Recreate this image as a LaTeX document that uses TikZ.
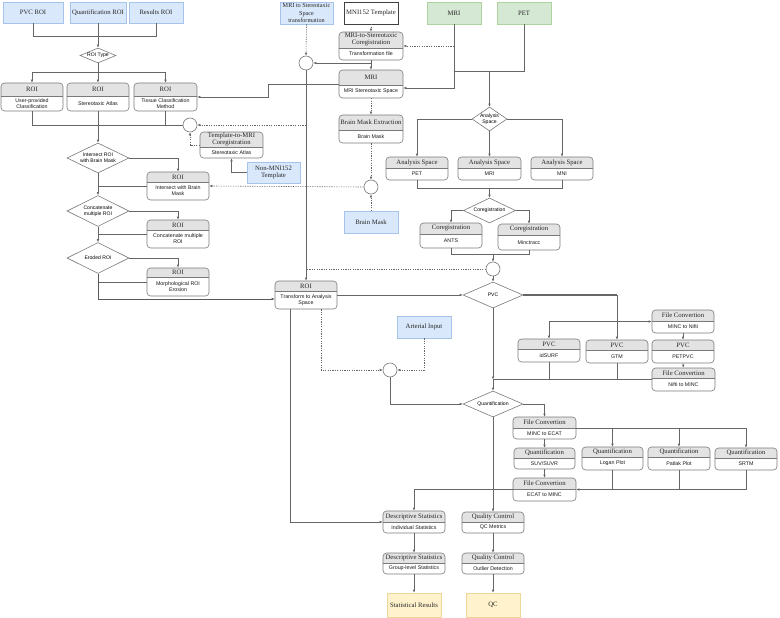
\documentclass[tikz,border=0pt]{standalone}
\usepackage{fontspec}
\setmainfont{Liberation Serif}
\newfontfamily\sansf{Liberation Sans}
\usetikzlibrary{arrows.meta,shapes.geometric,calc}
\definecolor{lnc}{HTML}{666666}
\definecolor{bdc}{HTML}{7A7A7A}
\definecolor{hdf}{HTML}{E3E3E3}
\definecolor{bluef}{HTML}{DAE8FC}
\definecolor{blued}{HTML}{A6C3EA}
\definecolor{greenf}{HTML}{D5E8D4}
\definecolor{greend}{HTML}{AFD3A0}
\definecolor{yelf}{HTML}{FFF2CC}
\definecolor{yeld}{HTML}{EBD79A}
\tikzset{
 hbox/.style={draw=bdc, rounded corners=3.5pt, inner sep=0pt, line width=0.6pt},
 hsep/.style={draw=bdc, line width=0.6pt},
 htxt/.style={font=\fontsize{6.7}{7}\selectfont, text=black!85, align=center, inner sep=0pt},
 btxt/.style={font=\sansf\fontsize{5.3}{6.2}\selectfont, text=black!90, align=center, inner sep=0pt},
 plainbx/.style={inner sep=0pt, align=center, font=\fontsize{6.7}{7.2}\selectfont, text=black!85, line width=0.6pt},
 bluebox/.style={plainbx, draw=blued, fill=bluef},
 greenbox/.style={plainbx, draw=greend, fill=greenf},
 yelbox/.style={plainbx, draw=yeld, fill=yelf},
 whitebox/.style={plainbx, draw=black!75, fill=white},
 dia/.style={shape=diamond, draw=bdc, fill=white, inner sep=0pt, line width=0.6pt, align=center, font=\sansf\fontsize{5.1}{5.8}\selectfont},
 junc/.style={circle, draw=bdc, fill=white, minimum size=14pt, inner sep=0pt, line width=0.6pt},
 ln/.style={draw=lnc, line width=0.6pt},
 ar/.style={ln, -{Latex[length=3pt,width=2.6pt]}},
 dln/.style={ln, dash pattern=on 1.2pt off 1.2pt},
 dar/.style={ar, dash pattern=on 1.2pt off 1.2pt},
}
% header box: name, x1, y1, x2, y2, yh, header, body
\newcommand\hbx[8]{%
  \begin{scope}
    \clip[rounded corners=3.5pt] (#2,#3) rectangle (#4,#5);
    \fill[hdf] (#2,#3) rectangle (#4,#6);
  \end{scope}
  \draw[hsep] (#2,#6) -- (#4,#6);
  \node[hbox, minimum width={#4-#2}, minimum height={#5-#3}] (#1) at ({(#2+#4)/2},{(#3+#5)/2}) {};
  \node[htxt] (#1-h) at ({(#2+#4)/2},{(#3+#6)/2}) {#7};
  \node[btxt] (#1-b) at ({(#2+#4)/2},{(#6+#5)/2}) {#8};
}
% plain box: style, name, x1, y1, x2, y2, text
\newcommand\pbx[7]{%
  \node[#1, minimum width={#5-#3}, minimum height={#6-#4}] (#2) at ({(#3+#5)/2},{(#4+#6)/2}) {#7};
}
% diamond: name, cx, cy, w, h, aspect, text
\newcommand\dmd[7]{%
  \node[dia, minimum width=#4, minimum height=#5, aspect=#6] (#1) at (#2,#3) {#7};
}
\begin{document}
\begin{tikzpicture}[x=1pt,y=-1pt]
\useasboundingbox[fill=white] (0,0) rectangle (780,618);

% ---------- plain boxes ----------
\pbx{bluebox}{pvcroi}{3}{2}{63}{23}{PVC ROI}
\pbx{bluebox}{quantroi}{70}{2}{126}{23}{Quantification ROI}
\pbx{bluebox}{resroi}{129}{2}{183}{23}{Results ROI}
\pbx{bluebox}{mristx}{280}{2}{333}{24}{\fontsize{6.2}{6.5}\selectfont MRI to Stereotaxic\\\fontsize{6.2}{6.5}\selectfont Space\\\fontsize{6.2}{6.5}\selectfont transformation}
\pbx{whitebox}{mni152}{344}{2}{398}{24}{MNI152 Template}
\pbx{greenbox}{mri}{427}{2}{481}{24}{MRI}
\pbx{greenbox}{pet}{497}{2}{551}{24}{PET}
\pbx{bluebox}{nonmni}{247}{162}{300}{183}{Non-MNI152\\Template}
\pbx{bluebox}{brainmask}{344}{211}{398}{233}{Brain Mask}
\pbx{bluebox}{arterial}{397}{316}{451}{338}{Arterial Input}
\pbx{yelbox}{statres}{387}{593}{441}{617}{Statistical Results}
\pbx{yelbox}{qc}{466}{593}{520}{617}{QC}

% ---------- header boxes ----------
\hbx{roi1}{1}{83}{63}{111}{96}{ROI}{User-provided\\Classification}
\hbx{roi2}{67}{83}{129}{111}{96}{ROI}{Stereotaxic Atlas}
\hbx{roi3}{134}{83}{197}{111}{96}{ROI}{Tissue Classification\\Method}
\hbx{mricoreg}{339}{32}{403}{60}{48}{MRI-to-Stereotaxic\\Coregistration}{Transformation file}
\hbx{mrisp}{339}{70}{403}{98}{85}{MRI}{MRI Stereotaxic Space}
\hbx{bme}{339}{115}{403}{143}{130}{Brain Mask Extraction}{Brain Mask}
\hbx{t2m}{200}{132}{263}{158}{147}{Template-to-MRI\\Coregistration}{Stereotaxic Atlas}
\hbx{roiint}{147}{172}{209}{200}{182}{ROI}{Intersect with Brain\\Mask}
\hbx{roicat}{147}{220}{209}{248}{230}{ROI}{Concatenate multiple\\ROI}
\hbx{roiero}{147}{268}{209}{296}{277}{ROI}{Morphological ROI\\Erosion}
\hbx{roitr}{275}{281}{337}{309}{291}{ROI}{Transform to Analysis\\Space}
\hbx{aspet}{386}{157}{448}{180}{168}{Analysis Space}{PET}
\hbx{asmri}{458}{157}{521}{180}{168}{Analysis Space}{MRI}
\hbx{asmni}{531}{157}{593}{180}{168}{Analysis Space}{MNI}
\hbx{ants}{420}{223}{482}{248}{234}{Coregistration}{ANTS}
\hbx{minc}{498}{224}{560}{250}{235}{Coregistration}{Minctracc}
\hbx{idsurf}{518}{339}{580}{362}{349}{PVC}{idSURF}
\hbx{gtm}{586}{340}{648}{363}{350}{PVC}{GTM}
\hbx{petpvc}{652}{340}{714}{363}{350}{PVC}{PETPVC}
\hbx{fc1}{652}{310}{714}{333}{321}{File Convertion}{MINC to Nifti}
\hbx{fc2}{652}{368}{715}{391}{378}{File Convertion}{Nifti to MINC}
\hbx{fc3}{513}{417}{576}{439}{428}{File Convertion}{MINC to ECAT}
\hbx{suv}{514}{448}{575}{469}{458}{Quantification}{SUV/SUVR}
\hbx{logan}{582}{447}{643}{470}{457}{Quantification}{Logan Plot}
\hbx{patlak}{648}{447}{710}{470}{457}{Quantification}{Patlak Plot}
\hbx{srtm}{715}{448}{777}{470}{458}{Quantification}{SRTM}
\hbx{fc4}{513}{478}{576}{501}{489}{File Convertion}{ECAT to MINC}
\hbx{ds1}{383}{511}{445}{533}{522}{Descriptive Statistics}{Individual Statistics}
\hbx{qc1}{462}{512}{524}{533}{522}{Quality Control}{QC Metrics}
\hbx{ds2}{383}{553}{445}{574}{563}{Descriptive Statistics}{Group-level Statistics}
\hbx{qc2}{462}{553}{524}{574}{563}{Quality Control}{Outlier Detection}

% ---------- diamonds ----------
\dmd{roitype}{98}{55.5}{36}{15}{2.4}{ROI Type}
\dmd{intd}{98}{158}{62}{30}{2.07}{Intersect ROI\\with Brain Mask}
\dmd{catd}{98}{211}{62}{31}{2}{Concatenate\\multiple ROI}
\dmd{erod}{98}{258}{62}{31}{2}{Eroded ROI}
\dmd{asd}{489.5}{119}{35}{24}{1.46}{Analysis\\Space}
\dmd{cord}{489.5}{210.5}{52}{25}{2.08}{Coregistration}
\dmd{pvcd}{493}{295}{60}{26}{2.3}{PVC}
\dmd{quantd}{493}{404}{60}{26}{2.3}{Quantification}

% ---------- junctions ----------
\node[junc] (c1) at (190,125) {};
\node[junc] (c2) at (306,63) {};
\node[junc] (c3) at (371,187) {};
\node[junc] (c4) at (390,370) {};
\node[junc] (c5) at (493,269) {};

% ---------- connectors: ROI side ----------
\coordinate (b36) at (0,36);
\coordinate (b72) at (0,72);
\draw[ln] (pvcroi.south) -- (pvcroi.south |- b36) -- (resroi.south |- b36) -- (resroi.south);
\draw[ar] (quantroi.south) -- (roitype.north);
\draw[ln] (roitype.south) -- (roitype.south |- b72);
\draw[ln] (roi1.north |- b72) -- (roi3.north |- b72);
\draw[ar] (roi1.north |- b72) -- (roi1.north);
\draw[ar] (roi2.north |- b72) -- (roi2.north);
\draw[ar] (roi3.north |- b72) -- (roi3.north);
\draw[ln] (roi1.south) |- (c1.west);
\draw[ln] (roi3.south) -- (roi3.south |- c1.west);
\draw[ar] (roi2.south) -- (intd.north);

\draw[ar] (intd.east) -| (roiint.north);
\draw[ln] (roiint.west) -- (intd.south |- roiint.west);
\draw[ar] (intd.south) -- (catd.north);
\draw[ar] (catd.east) -| (roicat.north);
\draw[ln] (roicat.west) -- (catd.south |- roicat.west);
\draw[ar] (catd.south) -- (erod.north);
\draw[ar] (erod.east) -| (roiero.north);
\draw[ln] (roiero.west) -- (erod.south |- roiero.west);
\coordinate (b299) at (0,299);
\draw[ar, line width=0.9pt, draw=black!65] (erod.south) -- (erod.south |- b299) -- (roitr.west |- b299);

% ---------- MRI / template side ----------
\draw[dar] (mristx.south) -- (c2.north);
\draw[dar] (mni152.south) -- (mricoreg.north);
\draw[ar] (mricoreg.south) -- (mrisp.north);
\draw[ar] (mricoreg.south |- c2.east) -- (c2.east);
\coordinate (b88) at (0,88);
\draw[ar] (mri.south) -- (mri.south |- b88) -- (mrisp.east |- b88);
\draw[dar] (mri.south |- mricoreg.east) -- (mricoreg.east);
\coordinate (b71) at (0,71);
\draw[ln] (pet.south) -- (pet.south |- b71) -- (mri.south |- b71);
\draw[ar] (asd.north |- b71) -- (asd.north);
\coordinate (k1) at (268,84);
\draw[ar] (mrisp.west) -- (k1) -- (k1 |- roi3.east) -- (roi3.east);
\draw[dar] (mrisp.south) -- (bme.north);
\draw[dar] (bme.south) -- (c3.north);
\draw[dar] (brainmask.north) -- (c3.south);
\draw[dar] (c3.west) -- (roiint.east);
\draw[ar] (c2.south) -- (roitr.north);
\draw[dar] (c2.south |- c1.east) -- (c1.east);
\draw[dar] (t2m.west) -| (c1.south);
\draw[ar] (nonmni.west) -| (t2m.south);

% ---------- analysis space ----------
\draw[ar] (asd.west) -| (aspet.north);
\draw[ar] (asd.east) -| (asmni.north);
\draw[ar] (asd.south) -- (asmri.north);
\coordinate (b188) at (0,188);
\draw[ln] (aspet.south) -- (aspet.south |- b188) -- (asmni.south |- b188) -- (asmni.south);
\draw[ar] (cord.north |- b188) -- (cord.north);
\draw[ar] (cord.west) -| (ants.north);
\draw[ar] (cord.east) -| (minc.north);
\coordinate (b254) at (0,254);
\draw[ln] (ants.south) -- (ants.south |- b254) -- (minc.south |- b254) -- (minc.south);
\draw[ar] (c5.north |- b254) -- (c5.north);
\draw[ar] (c5.south) -- (pvcd.north);
\draw[dln] (c5.west) -- (c2.south |- c5.west);

% ---------- ROI transform ----------
\draw[ar, line width=0.8pt, draw=black!60] (roitr.east) -- (pvcd.west);
\draw[ar] ($(roitr.south)+(-16,0)$) |- (ds1.west);
\draw[dar] ($(roitr.south)+(15,0)$) |- (c4.west);
\draw[dar] (arterial.south) |- (c4.east);
\draw[ar] (c4.south) |- (quantd.west);

% ---------- PVC ----------
\draw[ln, line width=1.3pt, draw=black!60] (pvcd.east) -- (gtm.north |- pvcd.east);
\draw[ar] (gtm.north |- pvcd.east) -- (gtm.north);
\draw[ar] (idsurf.north |- fc1.west) -- (fc1.west);
\draw[ar] (idsurf.north |- fc1.west) -- (idsurf.north);
\draw[ar] (fc1.south) -- (petpvc.north);
\draw[ar] (petpvc.south) -- (fc2.north);
\draw[ln] (fc2.west) -- (pvcd.south |- fc2.west);
\draw[ln] (idsurf.south) -- (idsurf.south |- fc2.west);
\draw[ln] (gtm.south) -- (gtm.south |- fc2.west);
\draw[ar] (pvcd.south) -- (pvcd.south |- fc2.west);
\draw[ar] (pvcd.south |- fc2.west) -- (quantd.north);

% ---------- quantification ----------
\draw[ar] (quantd.east) -| (fc3.north);
\draw[ar] (fc3.south) -- (suv.north);
\draw[ln] (fc3.east) -- (srtm.north |- fc3.east);
\draw[ar] (logan.north |- fc3.east) -- (logan.north);
\draw[ar] (patlak.north |- fc3.east) -- (patlak.north);
\draw[ar] (srtm.north |- fc3.east) -- (srtm.north);
\draw[ar] (suv.south) -- (fc4.north);
\draw[ln] (logan.south) -- (logan.south |- fc4.east);
\draw[ln] (patlak.south) -- (patlak.south |- fc4.east);
\draw[ar] (srtm.south) |- (fc4.east);
\draw[ar] (fc4.west) -| (ds1.north);
\draw[ar] (quantd.south) -- (qc1.north);
\draw[ar] (ds1.south) -- (ds2.north);
\draw[ar] (qc1.south) -- (qc2.north);
\draw[ar] (ds2.south) -- (statres.north);
\draw[ar] (qc2.south) -- (qc.north);
\end{tikzpicture}
\end{document}
